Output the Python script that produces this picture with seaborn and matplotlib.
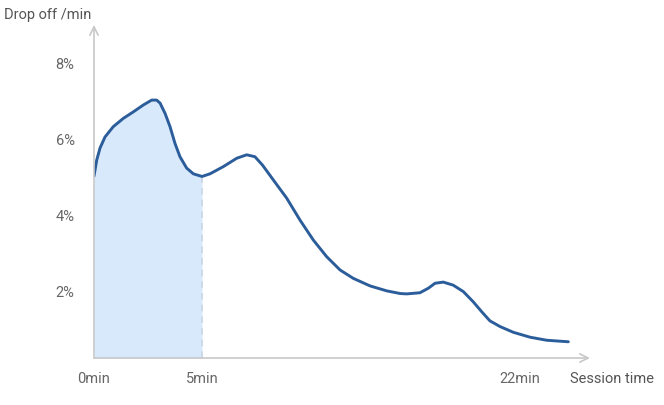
import numpy as np
import pandas as pd
import matplotlib
matplotlib.use("Agg")
import matplotlib.pyplot as plt
import seaborn as sns

# curve (x in minute-units of the chart, y in %)
minutes = [0.0, 0.125, 0.28, 0.51, 0.89, 1.36, 1.82, 2.28, 2.67, 2.9, 3.06, 3.29,
           3.52, 3.75, 3.98, 4.29, 4.6, 5.0, 5.37, 5.99, 6.61, 7.07, 7.45, 7.8,
           8.3, 8.92, 9.54, 10.15, 10.77, 11.39, 12.0, 12.78, 13.55, 14.17, 14.48,
           15.09, 15.48, 15.79, 16.17, 16.63, 17.1, 17.56, 17.95, 18.33, 18.8,
           19.41, 20.19, 20.96, 21.96]
drop_pct = [5.05, 5.47, 5.79, 6.08, 6.35, 6.57, 6.74, 6.92, 7.05, 7.05, 6.97, 6.7,
            6.35, 5.91, 5.56, 5.26, 5.11, 5.04, 5.11, 5.3, 5.52, 5.61, 5.56, 5.34,
            4.95, 4.47, 3.89, 3.37, 2.93, 2.58, 2.36, 2.16, 2.03, 1.96, 1.95,
            1.98, 2.1, 2.23, 2.26, 2.18, 2.01, 1.74, 1.48, 1.24, 1.09,
            0.94, 0.81, 0.73, 0.69]

highlight_end = 5.0
ytick_vals = [2, 4, 6, 8]
ytick_labels = ["2%", "4%", "6%", "8%"]
xtick_vals = [0, 5, 19.7]
xtick_labels = ["0min", "5min", "22min"]

df = pd.DataFrame({"minutes": minutes, "drop": drop_pct})

sns.set_style("white")
plt.rcParams["font.family"] = ["Roboto", "DejaVu Sans"]

fig = plt.figure(figsize=(6.64, 4.05), dpi=100)
ax = fig.add_axes([94 / 664, 1 - 358 / 405, 496 / 664, 333 / 405])

y0 = 0.263
ax.set_xlim(0, 496 / 21.6)
ax.set_ylim(y0, y0 + 333 / 38)

# shaded first five minutes
sub = df[df["minutes"] <= highlight_end]
ax.fill_between(sub["minutes"], y0, sub["drop"], color="#d8e9fc", lw=0, zorder=1)
y5 = df.loc[df["minutes"] == highlight_end, "drop"].iloc[0]
ax.plot([highlight_end, highlight_end], [y0, y5], color="#c9d6e3", lw=1.2,
        ls=(0, (4, 3)), zorder=2)

sns.lineplot(data=df, x="minutes", y="drop", ax=ax, color="#2c5d9b", lw=2.1,
             solid_joinstyle="round", solid_capstyle="round", zorder=3)

for s in ax.spines.values():
    s.set_visible(False)

# axis arrows
axis_col = "#c8c8c8"
ax.annotate("", xy=(0, 1), xytext=(0, 0), xycoords="axes fraction",
            arrowprops=dict(arrowstyle="->,head_length=0.6,head_width=0.3",
                            color=axis_col, lw=1.2, shrinkA=0, shrinkB=0))
ax.annotate("", xy=(1, 0), xytext=(0, 0), xycoords="axes fraction",
            arrowprops=dict(arrowstyle="->,head_length=0.6,head_width=0.3",
                            color=axis_col, lw=1.2, shrinkA=0, shrinkB=0))

ax.set_yticks(ytick_vals)
ax.set_yticklabels(ytick_labels)
ax.set_xticks(xtick_vals)
ax.set_xticklabels(xtick_labels)
ax.tick_params(axis="y", length=0, pad=14, labelsize=10.5, labelcolor="#666666")
ax.tick_params(axis="x", length=0, pad=10, labelsize=10.5, labelcolor="#666666")
ax.set_xlabel("")
ax.set_ylabel("")

fig.text(4 / 664, 1 - 15 / 405, "Drop off /min", fontsize=10.5, color="#555555",
         ha="left", va="center")
fig.text(570 / 664, 1 - 379 / 405, "Session time", fontsize=10.5, color="#555555",
         ha="left", va="center")

fig.savefig("out.png", dpi=100)
